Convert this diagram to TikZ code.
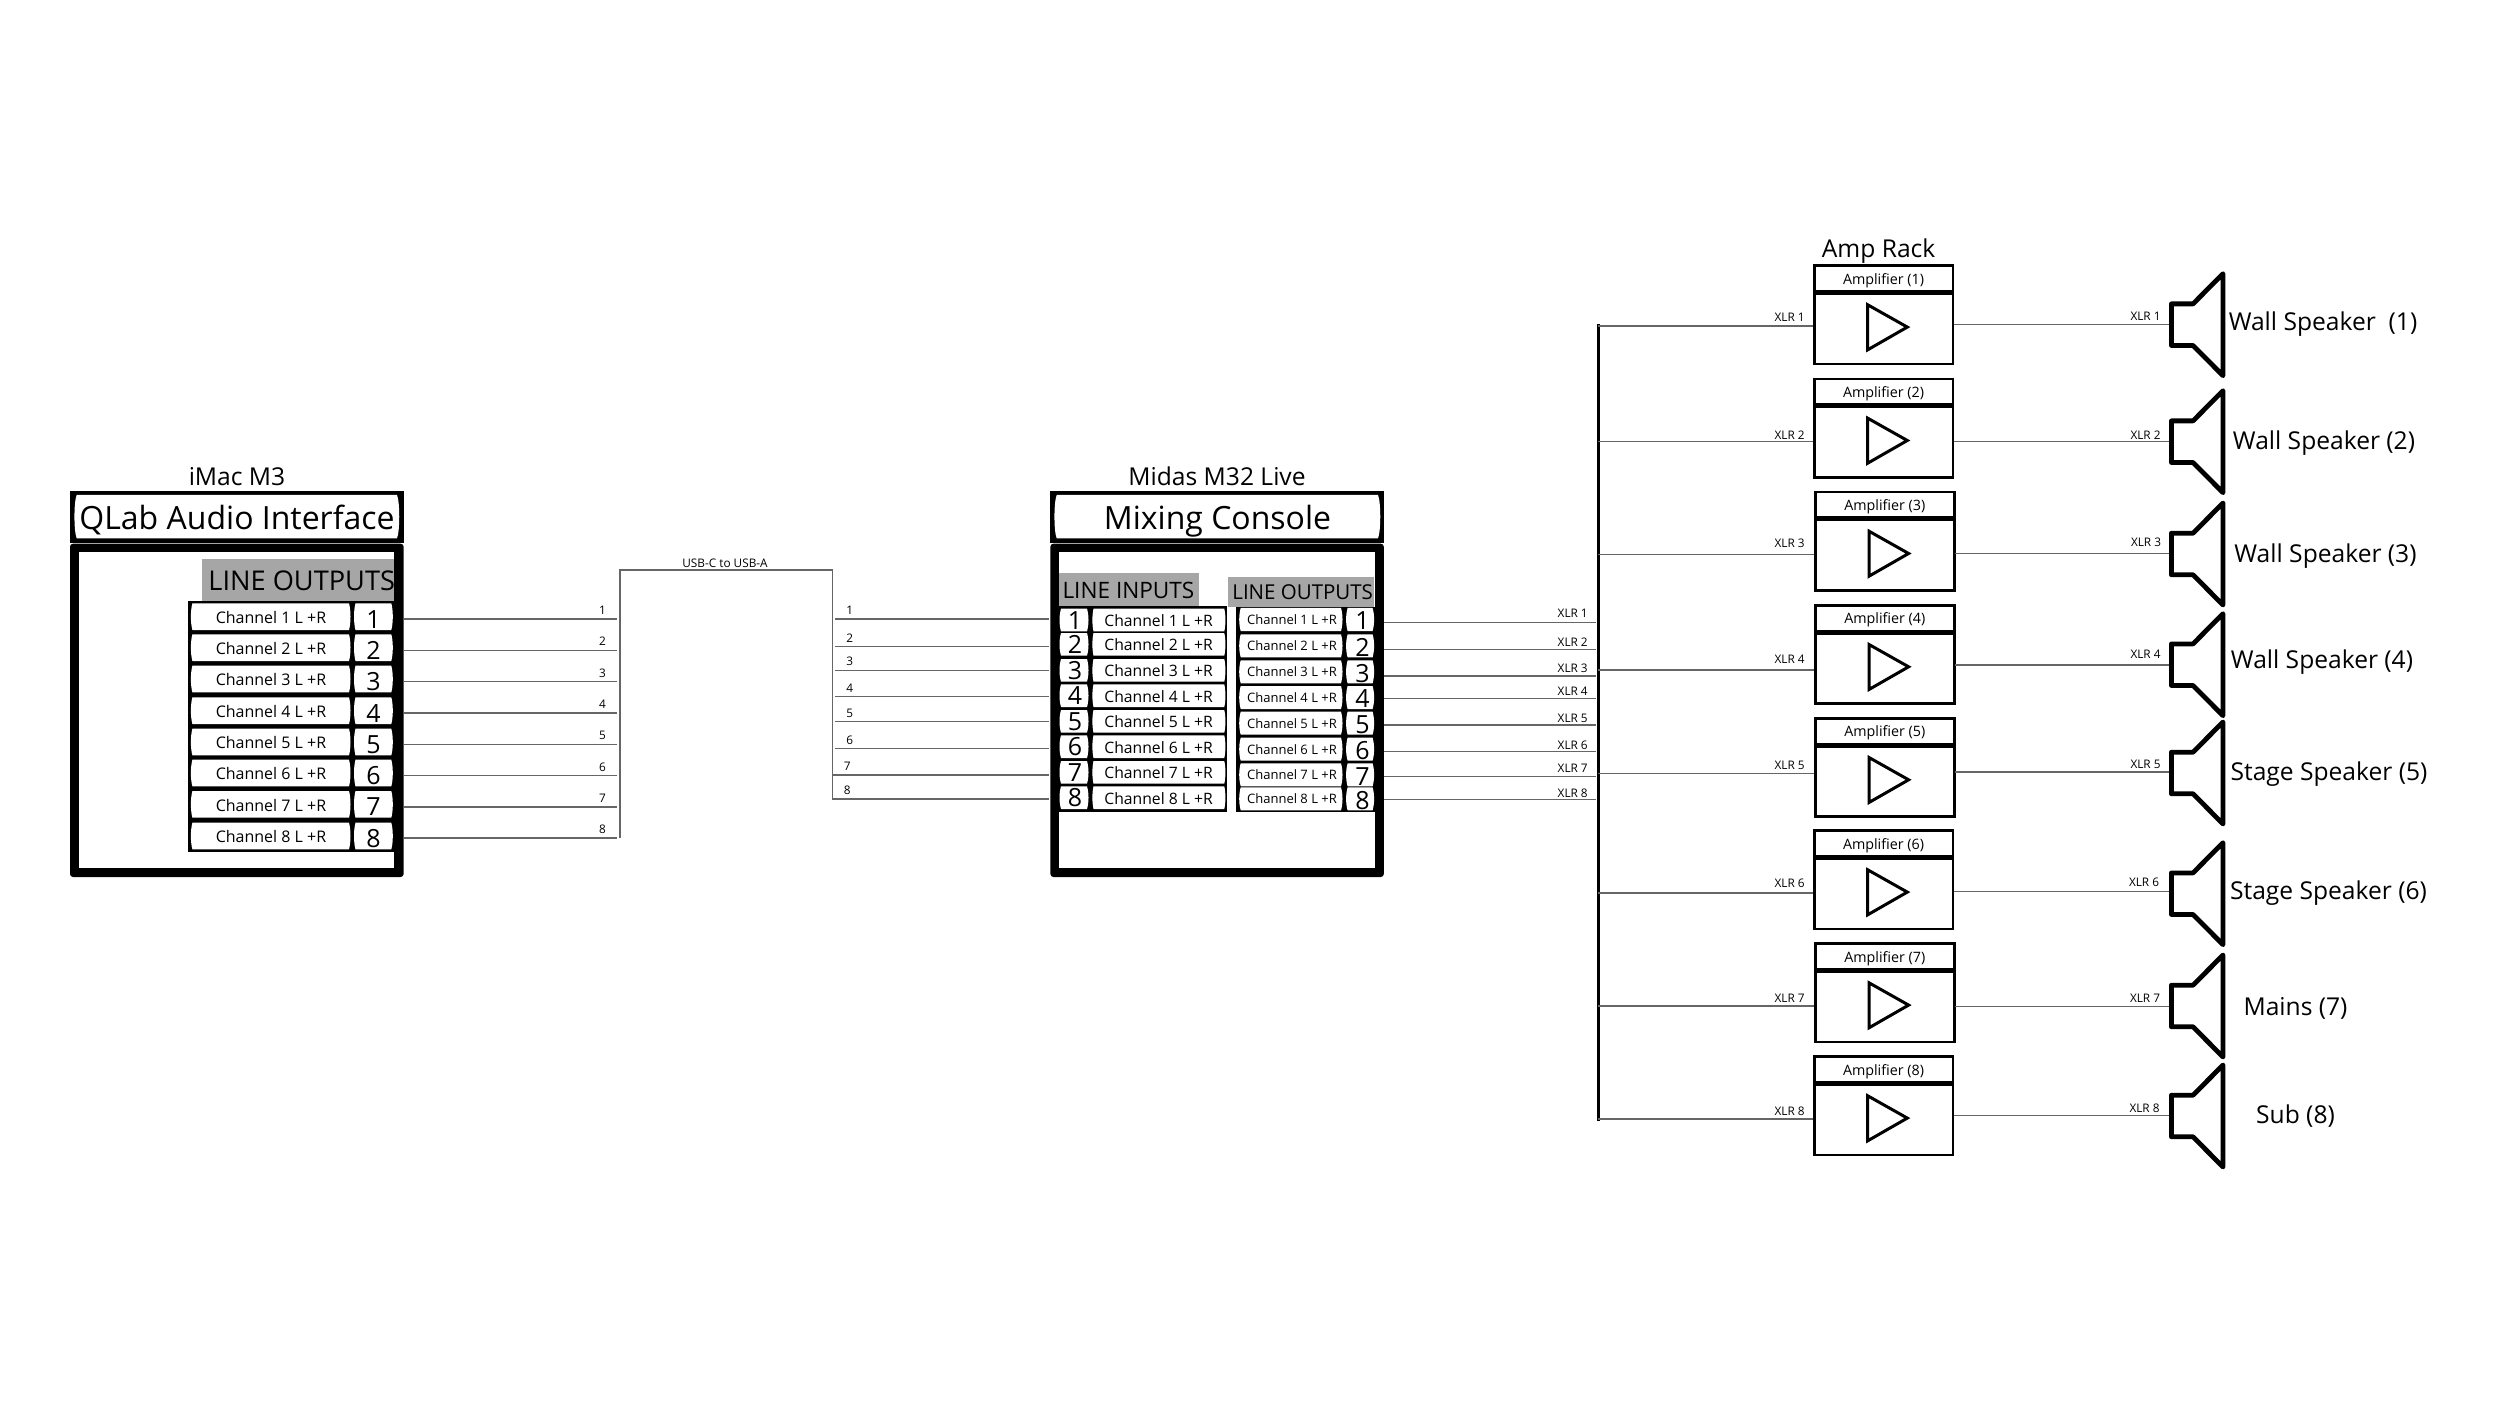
\documentclass[tikz,border=0pt]{standalone}
\usepackage{fontspec}
\setmainfont{Open Sans}
\definecolor{wiregray}{HTML}{666666}
\definecolor{hdrgray}{HTML}{A6A6A6}
\newcommand\fsz[1]{\fontsize{#1}{#1}\selectfont}
\newcommand\barrelcell[5]{\fill[white] (#1+#5,#2) -- (#3-#5,#2) .. controls (#3,#2+7) and (#3,#4-7) .. (#3-#5,#4) -- (#1+#5,#4) .. controls (#1,#4-7) and (#1,#2+7) .. (#1+#5,#2) -- cycle;}
\tikzset{
  x=0.5pt,y=-0.5pt,
  wire/.style={draw=wiregray,line width=0.65pt},
  lab/.style={inner sep=0pt,outer sep=0pt,text=black},
  frame/.style={fill=black,rounded corners=1.5pt},
  wirelab/.style={lab,font=\fsz{5.9}},
  xlrlab/.style={lab,font=\fsz{5.9}},
  chanA/.style={lab,font=\fsz{8}},
  chanM/.style={lab,font=\fsz{7.85}},
  chanB/.style={lab,font=\fsz{6.5}},
  numlab/.style={lab,font=\fsz{12.5}},
  headlab/.style={lab,font=\fsz{16}},
  titlelab/.style={lab,font=\fsz{12.3}},
  portlab/.style={lab,font=\fsz{13.6}},
  amplab/.style={lab,font=\fsz{7.15}},
  spklab/.style={lab,font=\fsz{12.3}},
  ampbox/.style={draw=black,fill=white,line width=1.3pt,minimum width=69.4pt,minimum height=49.2pt,inner sep=0pt,outer sep=0pt},
}
\begin{document}
\begin{tikzpicture}
\path[use as bounding box,fill=white] (0,0) rectangle (2500,1406);

% ---- left unit ----
\node[titlelab] (imac) at (237,477) {iMac M3};
\fill[black] (70,490.7) rectangle (403.6,542.7);
\barrelcell{73.7}{495}{400}{538.3}{3}
\node[headlab] (qlab) at (237,520) {QLab Audio Interface};
\fill[frame] (70,543.7) rectangle (403.6,877);
\fill[white] (79,552.3) rectangle (394,867.7);
\fill[hdrgray] (202,559.3) rectangle (394,600.7);
\node[portlab,anchor=east] (lo1) at (395,581) {LINE OUTPUTS};
\fill[black] (188,600.7) rectangle (394,852);
\foreach \n/\t/\ly/\lly in {1/603.3/619/610.7,2/634.3/650.3/641.7,3/665.7/681.7/673,4/697.3/713/704.3,5/728.7/744.3/735.7,6/759.7/775.7/767,7/791/807/798.3,8/822.7/838/829.7}{
  \barrelcell{190.4}{\t}{351}{\t+26.7}{2}
  \barrelcell{353.5}{\t}{393.3}{\t+26.7}{2}
  \node[chanA] (qc\n) at (271,\t+14) {Channel \n{} L +R};
  \node[numlab] (qn\n) at (373.4,\t+16) {\n};
  \coordinate (qo\n) at (403.6,\ly);
  \coordinate (qe\n) at (617,\ly);
  \draw[wire] (qo\n) -- (qe\n);
  \node[wirelab] (qw\n) at (602.6,\lly) {\n};
}
% ---- USB trunk ----
\coordinate (ua) at (620,838);
\coordinate (ub) at (620,570);
\coordinate (uc) at (832.3,570);
\coordinate (ud) at (832.3,799);
\draw[wire,line join=miter] (ua) -- (ub) -- (uc) -- (ud);
\node[wirelab] (usb) at (725,563.3) {USB-C to USB-A};

% ---- mixer ----
\node[titlelab] (midas) at (1217,476.5) {Midas M32 Live};
\fill[black] (1050.4,490.7) rectangle (1383.8,542.7);
\barrelcell{1053.7}{495}{1381}{538.3}{3}
\node[headlab] (mix) at (1217.5,521) {Mixing Console};
\fill[frame] (1050.4,543.7) rectangle (1383.8,877);
\fill[white] (1059,552.3) rectangle (1375,867.7);
\fill[hdrgray] (1059,573) rectangle (1199,606);
\fill[hdrgray] (1228,576.7) rectangle (1374,607.3);
\node[lab,font=\fsz{11.3},anchor=west] (li) at (1062.5,590) {LINE INPUTS};
\node[lab,font=\fsz{10.25},anchor=east] (lo2) at (1373,592.3) {LINE OUTPUTS};
\fill[black] (1059,606) rectangle (1227.4,811.7);
\fill[black] (1236,607) rectangle (1375,811.7);
\foreach \n/\t/\ly/\lly/\ox in {1/608.7/619/610.7/834.8,2/633/646.3/638/834.8,3/659/670.3/661.7/834.8,4/684.3/696.3/688/834.8,5/710/721.7/713/834.8,6/735.3/748.7/740/834.8,7/761/775/766/832.3,8/786.3/799/790.3/832.3}{
  \barrelcell{1059}{\t}{1089}{\t+22.7}{2}
  \barrelcell{1092}{\t}{1225.8}{\t+22.7}{1.5}
  \node[numlab] (mn\n) at (1075,\t+11.5) {\n};
  \node[chanM] (mc\n) at (1158.6,\t+12) {Channel \n{} L +R};
  \coordinate (mi\n) at (\ox,\ly);
  \coordinate (me\n) at (1049,\ly);
  \draw[wire] (mi\n) -- (me\n);
  \node[wirelab] (mw\n) at (\ox+15,\lly) {\n};
}
\foreach \n/\t/\ly/\lly in {1/608/622.3/613.3,2/634.3/649.3/642.7,3/660.3/676/668,4/686/698.3/691,5/711.7/725/718.3,6/737.7/751.3/745,7/763.3/776.3/768.3,8/787.3/799.7/793}{
  \barrelcell{1238.7}{\t}{1343}{\t+23}{2}
  \barrelcell{1345.6}{\t}{1374.6}{\t+23}{2}
  \node[chanB] (oc\n) at (1292,\t+11.5) {Channel \n{} L +R};
  \node[numlab] (on\n) at (1362.6,\t+13) {\n};
  \coordinate (oo\n) at (1383.8,\ly);
  \coordinate (oe\n) at (1596,\ly);
  \draw[wire] (oo\n) -- (oe\n);
  \node[xlrlab] (ow\n) at (1572.7,\lly) {XLR \n};
}

% ---- bus ----
\coordinate (busa) at (1598.3,326);
\coordinate (busb) at (1598.3,1119);
\draw[black,line width=1.5pt,line cap=rect] (busa) -- (busb);

% ---- amp rack ----
\node[titlelab] (rack) at (1878.6,251) {Amp Rack};
\foreach \n/\ax/\t/\iy/\oy/\c/\ily/\oly/\olx/\sname/\sx/\sy in {
  1/1813/264.3/326/324.7/324.7/317.3/316/2145.5/{Wall Speaker\ \ (1)}/2323/323.7,
  2/1813/377.7/441.3/441.3/441.7/435/435/2145.5/{Wall Speaker (2)}/2324/442.7,
  3/1814.3/490.7/554.3/553.7/554/543.3/542.7/2146/{Wall Speaker (3)}/2325.5/556.3,
  4/1814.3/604/670/665/664.7/659.3/654.3/2145.5/{Wall Speaker (4)}/2322/662,
  5/1814.3/717/773.7/772/773/765.3/764/2145.5/{Stage Speaker (5)}/2329/773.7,
  6/1813/829.3/893/891.7/893.7/883.3/882.7/2144/{Stage Speaker (6)}/2328.5/892.7,
  7/1814.3/942.3/1006/1006.3/1006/998/998.3/2145/{Mains (7)}/2295.5/1008.7,
  8/1813/1055.3/1119/1115.7/1116/1111/1108/2144.5/{Sub (8)}/2295.5/1116}{
  \node[ampbox,anchor=north west] (amp\n) at (\ax+1.3,\t+1.3) {};
  \draw[black,line width=2.5pt] (\ax,\t+28.3) -- (\ax+141,\t+28.3);
  \node[amplab] (at\n) at (\ax+70.5,\t+16) {Amplifier (\n)};
  \draw[black,line width=1.5pt,line join=miter,fill=white] (\ax+54.7,\t+40.5) -- (\ax+94.3,\t+62.8) -- (\ax+54.7,\t+85.5) -- cycle;
  \coordinate (ai\n) at (1598.3,\iy);
  \coordinate (aj\n) at (\ax,\iy);
  \coordinate (ao\n) at (\ax+141,\oy);
  \coordinate (spk\n) at (2170,\oy);
  \draw[wire] (ai\n) -- (aj\n);
  \draw[wire] (ao\n) -- (spk\n);
  \node[xlrlab] (xi\n) at (1789.6,\ily) {XLR \n};
  \node[xlrlab] (xo\n) at (\olx,\oly) {XLR \n};
  \draw[black,line width=2.4pt,line join=round] (2193,\c-20.8) -- (2171.4,\c-20.8) -- (2171.4,\c+20.8) -- (2193,\c+20.8) -- (2223,\c+51) -- (2223,\c-51) -- cycle;
  \node[spklab] (sl\n) at (\sx,\sy) {\sname};
}
\end{tikzpicture}
\end{document}
